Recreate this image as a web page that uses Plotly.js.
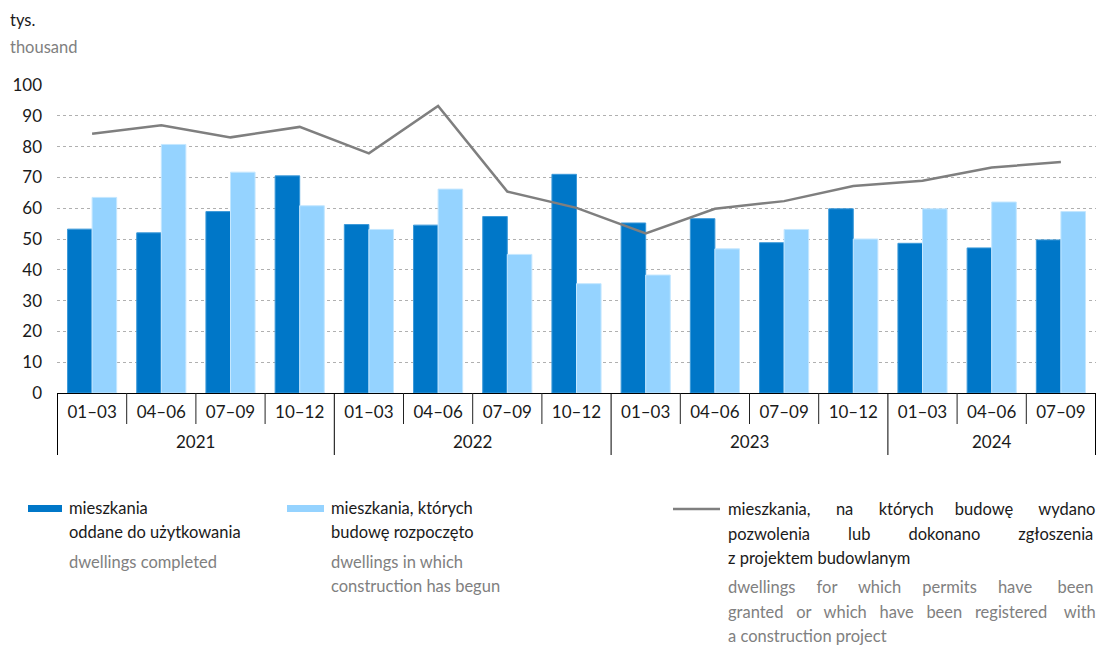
<!DOCTYPE html>
<html>
<head>
<meta charset="utf-8">
<script src="https://cdn.plot.ly/plotly-3.0.1.min.js"></script>
<style>html,body{margin:0;padding:0;background:#fff;}#chart{width:1106px;height:645px;}</style>
</head>
<body>
<div id="chart"></div>
<script>
const years = ["2021","2021","2021","2021","2022","2022","2022","2022","2023","2023","2023","2023","2024","2024","2024"];
const quarters = ["01–03","04–06","07–09","10–12","01–03","04–06","07–09","10–12","01–03","04–06","07–09","10–12","01–03","04–06","07–09"];
const completed = [53.2, 52.0, 58.9, 70.5, 54.7, 54.5, 57.3, 71.0, 55.2, 56.6, 48.8, 59.8, 48.6, 47.1, 49.7];
const started = [63.5, 80.7, 71.7, 60.8, 53.1, 66.2, 45.0, 35.5, 38.3, 46.8, 53.1, 50.0, 59.8, 62.0, 58.9];
const permits = [84.2, 86.9, 83.0, 86.4, 77.8, 93.2, 65.4, 60.1, 51.8, 59.8, 62.3, 67.2, 68.9, 73.2, 75.0];
const yTicks = [0,10,20,30,40,50,60,70,80,90,100];

const FONT = "Lato, 'Open Sans', sans-serif";
const DARK = "#0077c8", LIGHT = "#95d3ff", GREY = "#7f7f7f";
const TXT = "#1a1a1a", TXT2 = "#808080";

const cats = years.map((y, i) => y + " " + quarters[i]);
const traces = [
  {type:"bar", x:cats, y:completed, name:"completed", marker:{color:DARK, line:{color:"#3d9ad9", width:1}}, hoverinfo:"y"},
  {type:"bar", x:cats, y:started, name:"started", marker:{color:LIGHT, line:{color:"#c4e7ff", width:1}}, hoverinfo:"y"},
  {type:"scatter", mode:"lines", x:cats, y:permits, name:"permits", line:{color:GREY, width:2.5}, hoverinfo:"y"}
];

const L=57, R=1096, T=85, B=393;
const px = v => (v - L)/(R - L);
const py = v => (B - v)/(B - T);

const nb = n => "\u00a0".repeat(n);
const ann = [];
function t(xp, yp, text, color){
  ann.push({xref:"paper", yref:"paper", x:xp, y:yp, xanchor:"left", yanchor:"middle", showarrow:false,
    text:text, font:{family:FONT, size:16.5, color:color}});
}
function joinGaps(words, gaps){
  let s = words[0];
  for (let i = 1; i < words.length; i++) s += nb(gaps[i-1]) + words[i];
  return s;
}

t(px(8), py(20), "tys.", TXT);
t(px(8), py(47), "thousand", TXT2);

t(px(67), py(508), "mieszkania", TXT);
t(px(67), py(532), "oddane do użytkowania", TXT);
t(px(67), py(562), "dwellings completed", TXT2);

t(px(329), py(508), "mieszkania, których", TXT);
t(px(329), py(532), "budowę rozpoczęto", TXT);
t(px(329), py(562), "dwellings in which", TXT2);
t(px(329), py(586), "construction has begun", TXT2);

t(px(726), py(509), joinGaps(["mieszkania,","na","których","budowę","wydano"], [6,6,5,6]), TXT);
t(px(726), py(534), joinGaps(["pozwolenia","lub","dokonano","zgłoszenia"], [9,9,9]), TXT);
t(px(726), py(558), "z projektem budowlanym", TXT);
t(px(726), py(587), joinGaps(["dwellings","for","which","permits","have","been"], [5,5,5,5,6]), TXT2);
t(px(726), py(612), joinGaps(["granted","or","which","have","been","registered","with"], [3,3,3,3,3,4]), TXT2);
t(px(726), py(636), "a construction project", TXT2);

// category dividers, year labels and year dividers derived from the arrays
const shapes = [];
for (let i = 1; i < cats.length; i++) {
  if (years[i] === years[i-1])
    shapes.push({type:"line", xref:"x", yref:"paper", x0:i-0.5, x1:i-0.5, y0:0, y1:py(424), line:{color:"#222", width:1}});
}
const uniqYears = [...new Set(years)];
uniqYears.forEach(yr => {
  const idx = years.map((v,i)=> v===yr ? i : -1).filter(i => i >= 0);
  const first = idx[0], last = idx[idx.length-1];
  ann.push({xref:"x", yref:"paper", x:(first+last)/2, y:py(441), xanchor:"center", yanchor:"middle", showarrow:false,
    text:yr, font:{family:FONT, size:17, color:TXT}});
  shapes.push({type:"line", xref:"x", yref:"paper", x0:first-0.5, x1:first-0.5, y0:0, y1:py(455), line:{color:"#000", width:1}});
  if (yr === uniqYears[uniqYears.length-1])
    shapes.push({type:"line", xref:"x", yref:"paper", x0:last+0.5, x1:last+0.5, y0:0, y1:py(455), line:{color:"#000", width:1}});
});

shapes.push(
  {type:"rect", xref:"paper", yref:"paper", x0:px(28), x1:px(62), y0:py(505), y1:py(512), fillcolor:DARK, line:{width:0}},
  {type:"rect", xref:"paper", yref:"paper", x0:px(287), x1:px(324), y0:py(505), y1:py(512), fillcolor:LIGHT, line:{width:0}},
  {type:"line", xref:"paper", yref:"paper", x0:px(673), x1:px(720), y0:py(509), y1:py(509), line:{color:GREY, width:2.5}}
);

const layout = {
  width:1106, height:645,
  margin:{l:L, r:1106-R, t:T, b:645-B},
  paper_bgcolor:"#fff", plot_bgcolor:"#fff",
  showlegend:false,
  barmode:"group", bargap:0.29, bargroupgap:0,
  font:{family:FONT, size:17, color:TXT},
  xaxis:{type:"category", tickvals:cats, ticktext:quarters, showline:true, linecolor:"#000", linewidth:1,
    ticks:"", ticklabelstandoff:4,
    tickfont:{family:FONT, size:17, color:TXT}, showgrid:false, zeroline:false, fixedrange:true},
  yaxis:{range:[0,100], tickvals:yTicks, ticktext:yTicks.map(String), showgrid:true, gridcolor:"#b0b0b0", griddash:"dot", gridwidth:1,
    zeroline:false, showline:false, ticks:"", ticklabelstandoff:14,
    tickfont:{family:FONT, size:17, color:TXT}, fixedrange:true},
  annotations:ann, shapes:shapes
};
Plotly.newPlot("chart", traces, layout, {displayModeBar:false, staticPlot:true});
</script>
</body>
</html>
